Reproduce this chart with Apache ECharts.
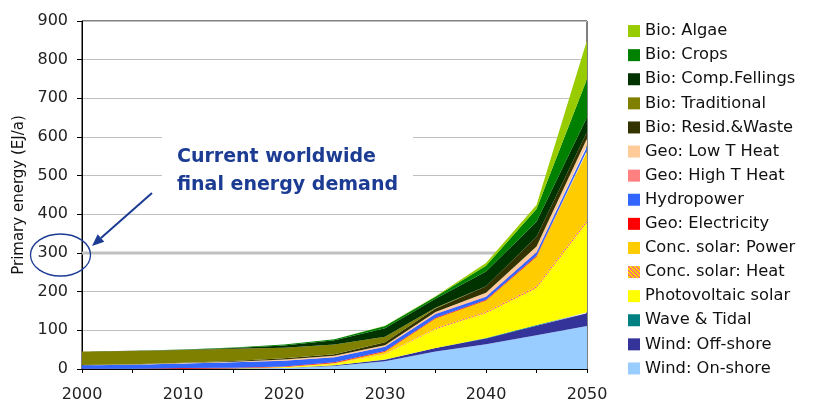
<!DOCTYPE html>
<html>
<head>
<meta charset="utf-8">
<script src="https://cdn.jsdelivr.net/npm/echarts@6/dist/echarts.min.js"></script>
<style>
html,body{margin:0;padding:0;background:#fff;}
#c{width:837px;height:409px;}
</style>
</head>
<body>
<div id="c"></div>
<script>
const years    = ['2000','2005','2010','2015','2020','2025','2030','2035','2040','2045','2050'];
const windOn   = [0.2,0.4,0.7,1,2.5,8,20,45,64,87,111];
const windOff  = [0,0,0,0.1,0.3,1.5,4,9,15,25,33];
const wave     = [0,0,0,0,0,0.2,0.3,0.5,1,2,3];
const pv       = [0,0,0.2,0.5,1.5,4,14,48,64,95,232];
const cspHeat  = [0,0,0,0,0.2,0.5,1,3,4,5,7];
const cspPower = [0,0,0,0.2,0.5,1.5,5,25,29,76,176];
const geoElec  = [0.3,0.5,1.5,1.5,1.5,2,2,2,2,3,4];
const hydro    = [9,10,12,14,15,13,11,10,8,9,9];
const geoHT    = [0,0,0,0.2,0.5,0.5,1,1,1,2,4];
const geoLT    = [0.5,0.7,1,1.5,2.5,3,3,4,9,13,17];
const resid    = [0.5,0.7,1,1.5,3.5,4,8,9,17,25,17];
const trad     = [34.5,34.5,33,32,27,25,14,2,0,0,0];
const fellings = [0,0.2,0.5,2,6,11,22,23,38,39,38];
const crops    = [0,0.2,0.5,1,2.5,3,6,5.5,15,33,99];
const algae    = [0,0,0,0,0,0,0.5,1,7,10,100];

// current worldwide final energy demand reference line: [startYear, endYear] and value
const demandYears = [2000, 2041.3];
const demandValue = [300, 300];
const yTicks = {min:0, max:900, interval:100};

// pattern for concentrated solar heat
const pc = document.createElement('canvas');
pc.width = 4; pc.height = 4;
const pctx = pc.getContext('2d');
pctx.fillStyle = '#ffcc00'; pctx.fillRect(0,0,4,4);
pctx.fillStyle = '#ff33cc';
for (let i=0;i<4;i++){ pctx.fillRect(i,i,1,1); }
const heatPattern = {image: pc, repeat: 'repeat'};

const seriesDefs = [
  ['Wind: On-shore', windOn, '#99ccff'],
  ['Wind: Off-shore', windOff, '#333399'],
  ['Wave & Tidal', wave, '#008080'],
  ['Photovoltaic solar', pv, '#ffff00'],
  ['Conc. solar: Heat', cspHeat, heatPattern],
  ['Conc. solar: Power', cspPower, '#ffcc00'],
  ['Geo: Electricity', geoElec, '#ff0000'],
  ['Hydropower', hydro, '#3366ff'],
  ['Geo: High T Heat', geoHT, '#ff8080'],
  ['Geo: Low T Heat', geoLT, '#ffcc99'],
  ['Bio: Resid.&Waste', resid, '#333300'],
  ['Bio: Traditional', trad, '#808000'],
  ['Bio: Comp.Fellings', fellings, '#003300'],
  ['Bio: Crops', crops, '#008000'],
  ['Bio: Algae', algae, '#99cc00']
];

const chart = echarts.init(document.getElementById('c'), null, {renderer:'canvas'});

const series = seriesDefs.map(function(d){
  return {
    name: d[0],
    type: 'line',
    stack: 'total',
    xAxisIndex: 0,
    data: d[1],
    symbol: 'none',
    showSymbol: false,
    lineStyle: {width: 0, opacity: 0},
    areaStyle: {color: d[2], opacity: 1},
    itemStyle: {color: d[2]},
    emphasis: {disabled: true},
    animation: false,
    z: 3
  };
});
series.push({
  name: 'demand',
  type: 'line',
  xAxisIndex: 1,
  data: demandYears.map(function(y,i){ return [y, demandValue[i]]; }),
  symbol: 'none',
  showSymbol: false,
  lineStyle: {color: '#c0c0c0', width: 3},
  itemStyle: {color: '#c0c0c0'},
  emphasis: {disabled: true},
  silent: true,
  animation: false,
  z: 2
});

const legendNames = seriesDefs.map(function(d){ return d[0]; }).reverse();

const option = {
  animation: false,
  backgroundColor: '#ffffff',
  grid: {left: 82, right: 250, top: 21, bottom: 40, show: true, borderColor: '#000', borderWidth: 1, backgroundColor: 'transparent'},
  legend: {
    orient: 'vertical',
    left: 628,
    top: 19,
    padding: 0,
    data: legendNames,
    icon: 'rect',
    itemWidth: 12,
    itemHeight: 12,
    itemGap: 0,
    selectedMode: false,
    textStyle: {fontFamily: 'DejaVu Sans', fontSize: 16.3, color: '#111', lineHeight: 24.1}
  },
  xAxis: [{
    type: 'category',
    data: years,
    boundaryGap: false,
    axisLine: {show: true, lineStyle: {color: '#000', width: 1}},
    axisTick: {show: true, length: 4, interval: 0, lineStyle: {color: '#000'}},
    axisLabel: {fontFamily: 'DejaVu Sans', fontSize: 16, color: '#222', margin: 18, interval: 1},
    splitLine: {show: false}
  }, {
    type: 'value',
    min: 2000, max: 2050,
    show: false,
    splitLine: {show: false}
  }],
  yAxis: {
    type: 'value',
    min: yTicks.min, max: yTicks.max, interval: yTicks.interval,
    name: 'Primary energy (EJ/a)',
    nameLocation: 'middle',
    nameGap: 42,
    nameTextStyle: {fontFamily: 'DejaVu Sans', fontSize: 15, color: '#111'},
    axisLine: {show: true, lineStyle: {color: '#000', width: 1}},
    axisTick: {show: true, length: 5, lineStyle: {color: '#000'}},
    axisLabel: {fontFamily: 'DejaVu Sans', fontSize: 16, color: '#222', margin: 14},
    splitLine: {show: true, lineStyle: {color: '#c0c0c0', width: 1}}
  },
  series: series
};
chart.setOption(option);

// annotation
const yDemand = chart.convertToPixel({yAxisIndex: 0}, demandValue[0]);
const annColor = '#1c3c94';
const tip = [92, yDemand - 7];
const start = [152, 193];
const dx = tip[0]-start[0], dy = tip[1]-start[1];
const L = Math.sqrt(dx*dx+dy*dy);
const ux = dx/L, uy = dy/L;
const hl = 12, hw = 5;
const bx = tip[0]-hl*ux, by = tip[1]-hl*uy;
const px = -uy, py = ux;

chart.setOption({
  graphic: [
    {type: 'rect', z: 10, shape: {x: 162, y: 122, width: 251, height: 78}, style: {fill: '#ffffff'}, silent: true},
    {type: 'text', z: 11, left: 177, top: 143, style: {text: 'Current worldwide\nfinal energy demand', fontFamily: 'DejaVu Sans', fontWeight: 'bold', fontSize: 19, lineHeight: 28, fill: annColor}, silent: true},
    {type: 'ellipse', z: 12, shape: {cx: 60.5, cy: yDemand + 2, rx: 30, ry: 21}, style: {fill: 'none', stroke: annColor, lineWidth: 1.3}, silent: true},
    {type: 'line', z: 12, shape: {x1: start[0], y1: start[1], x2: bx, y2: by}, style: {stroke: annColor, lineWidth: 2}, silent: true},
    {type: 'polygon', z: 12, shape: {points: [tip, [bx+hw*px, by+hw*py], [bx-hw*px, by-hw*py]]}, style: {fill: annColor}, silent: true}
  ]
});
</script>
</body>
</html>
